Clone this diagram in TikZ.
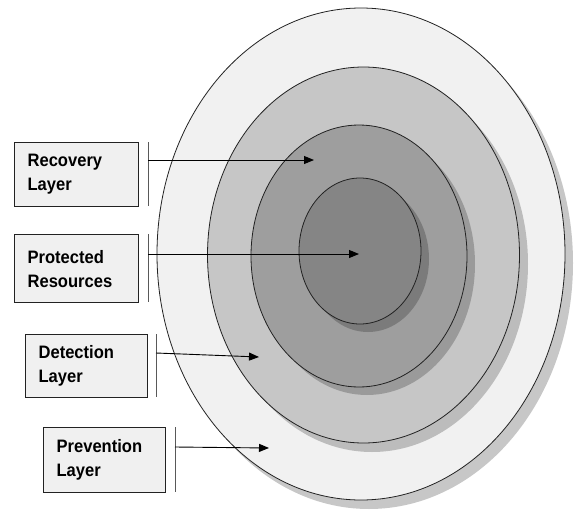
\documentclass[tikz,border=0pt]{standalone}
\usepackage{fontspec}
\setmainfont{Liberation Sans}
\newfontfamily\narrowlabel[FakeStretch=0.92]{Liberation Sans}
\usetikzlibrary{arrows.meta}
\definecolor{ringA}{HTML}{F1F1F1}
\definecolor{ringB}{HTML}{C6C6C6}
\definecolor{ringC}{HTML}{9E9E9E}
\definecolor{ringD}{HTML}{858585}
\definecolor{boxfill}{HTML}{F0F0F0}
\definecolor{inkline}{HTML}{222222}
\begin{document}
\begin{tikzpicture}[x=1pt,y=-1pt,
  ring/.style={draw=inkline,line width=0.8pt},
  shade/.style={fill=black,fill opacity=0.22,draw=none},
  labelbox/.style={draw=inkline,line width=1.2pt,fill=boxfill,anchor=north west,
     inner xsep=13pt,inner ysep=0pt,align=left,
     font=\narrowlabel\fontsize{18}{24}\selectfont\bfseries},
  bar/.style={draw=gray!70!black,line width=0.9pt},
  pointer/.style={draw=black,line width=0.9pt,-{Triangle[length=10pt,width=8pt]}}
]
\useasboundingbox (0,0) rectangle (574,512);
% rings with drop shadows
\fill[shade] (369,263) ellipse [x radius=204,y radius=246];
\path[ring,fill=ringA] (361,254) ellipse [x radius=204,y radius=246];
\fill[shade] (372,264) ellipse [x radius=156,y radius=188];
\path[ring,fill=ringB] (363.5,255) ellipse [x radius=156,y radius=188];
\fill[shade] (367,264) ellipse [x radius=108,y radius=131];
\path[ring,fill=ringC] (359,256) ellipse [x radius=108,y radius=131];
\fill[shade] (368,259) ellipse [x radius=61,y radius=73];
\path[ring,fill=ringD] (360,251) ellipse [x radius=61,y radius=73];
% label boxes
\node[labelbox,minimum width=124pt,minimum height=64pt,text width=98pt] (rec) at (14,142) {Recovery\\Layer};
\node[labelbox,minimum width=124pt,minimum height=68pt,text width=98pt] (pro) at (14,234) {Protected\\Resources};
\node[labelbox,minimum width=122pt,minimum height=63pt,text width=96pt] (det) at (25,334) {Detection\\Layer};
\node[labelbox,minimum width=122pt,minimum height=65pt,text width=96pt] (pre) at (43,427) {Prevention\\Layer};
% bars beside boxes
\draw[bar] (148,142) -- (148,206);
\draw[bar] (148,234) -- (148,302);
\draw[bar] (156,334) -- (156,397);
\draw[bar] (175,427) -- (175,492);
\coordinate (recS) at (148,160);
\coordinate (proS) at (148,254);
\coordinate (detS) at (156,353);
\coordinate (preS) at (175,447);
\coordinate (recT) at (314,160);
\coordinate (proT) at (359,254);
\coordinate (detT) at (259,357);
\coordinate (preT) at (269,448);
\draw[pointer] (recS) -- (recT);
\draw[pointer] (proS) -- (proT);
\draw[pointer] (detS) -- (detT);
\draw[pointer] (preS) -- (preT);
\end{tikzpicture}
\end{document}
